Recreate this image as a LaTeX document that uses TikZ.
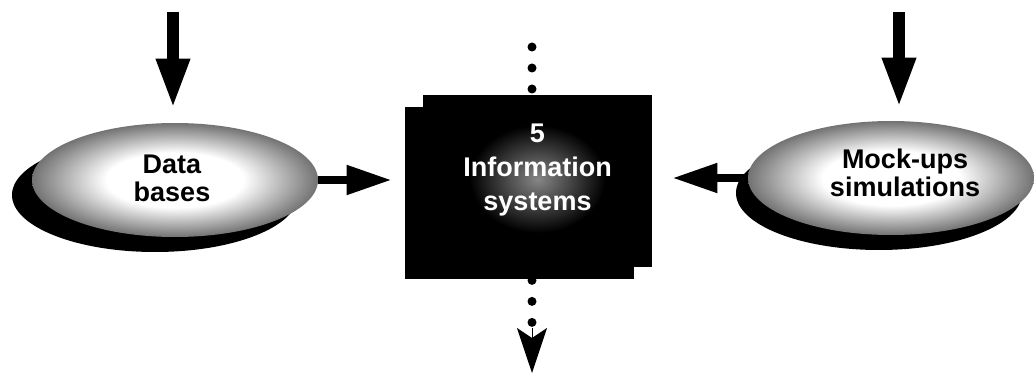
\documentclass[tikz,border=0pt]{standalone}
\usepackage{fontspec}
\setmainfont{Liberation Sans}
\usepackage{tikz}
\usetikzlibrary{shapes.geometric, arrows.meta, positioning, calc, shadows}

\pgfdeclareradialshading{ovalglow}{\pgfpoint{0bp}{0bp}}{color(0bp)=(white); color(12bp)=(white); color(25bp)=(black!55); color(50bp)=(black!55)}

\begin{document}
\begin{tikzpicture}[
    x=0.5pt, y=-0.5pt,
    oval/.style={ellipse, shade, shading=ovalglow, minimum width=143pt, minimum height=57pt, inner sep=0pt},
    ovaltext/.style={align=center, font=\bfseries\fontsize{13.5}{14}\selectfont},
    infobox/.style={rectangle, fill=black, minimum width=114.5pt, minimum height=86pt, inner sep=0pt},
    infolabel/.style={align=center, text=white, font=\bfseries\fontsize{13.5}{17}\selectfont},
    downarrow/.style={-{Triangle[length=25pt, width=15.5pt]}, line width=6pt},
    sidearrow/.style={-{Triangle[length=22.5pt, width=14pt]}, line width=4pt},
    outarrow/.style={-{Stealth[length=22.5pt, width=15pt, inset=5pt]}, line width=0.5pt},
    dots/.style={line width=4.5pt, line cap=round, dash pattern=on 0pt off 10.5pt}
]
    \useasboundingbox (0,0) rectangle (1034,374);

    % Source ovals with their shadows
    \node[oval, drop shadow={shadow xshift=-10pt, shadow yshift=-7.5pt, fill=black, opacity=1}] (data) at (175,180) {};
    \node[ovaltext] (datatext) at ([xshift=-1.5pt, yshift=1pt]data.center) {Data\\bases};
    \node[oval, drop shadow={shadow xshift=-6pt, shadow yshift=-7.5pt, fill=black, opacity=1}] (mock) at (891,178) {};
    \node[ovaltext] (mocktext) at ([xshift=7pt, yshift=2.5pt]mock.center) {Mock-ups\\simulations};

    % Central block
    \node[infobox, drop shadow={shadow xshift=-9pt, shadow yshift=-6pt, fill=black, opacity=1}] (info) at (537.5,181) {};
    \shade[inner color=gray!95, outer color=black] ([yshift=1pt]info.center) ellipse [x radius=34pt, y radius=27pt];
    \node[infolabel] (infotext) at ([yshift=5.5pt]info.center) {5\\Information\\systems};

    % Inputs from above
    \coordinate (datain) at (173,12);
    \coordinate (mockin) at (899,12);
    \draw[downarrow, shorten >=7pt] (datain) -- (datain |- data.north);
    \draw[downarrow, shorten >=6.5pt] (mockin) -- (mockin |- mock.north);

    % Side flows into the block
    \draw[sidearrow, shorten >=15.5pt] (data.east) -- (data.east -| info.west);
    \draw[sidearrow, shorten >=10pt] (mock.west) -- (mock.west -| info.east);

    % Dotted through-line
    \coordinate (dottop) at (532,47);
    \coordinate (outend) at (532,373);
    \draw[dots] (dottop) -- (dottop |- info.north);
    \draw[dots] ($(outend |- info.south)+(0,13)$) -- ++(0,42);
    \draw[outarrow] ($(outend)+(0,-45)$) -- (outend);

\end{tikzpicture}
\end{document}
